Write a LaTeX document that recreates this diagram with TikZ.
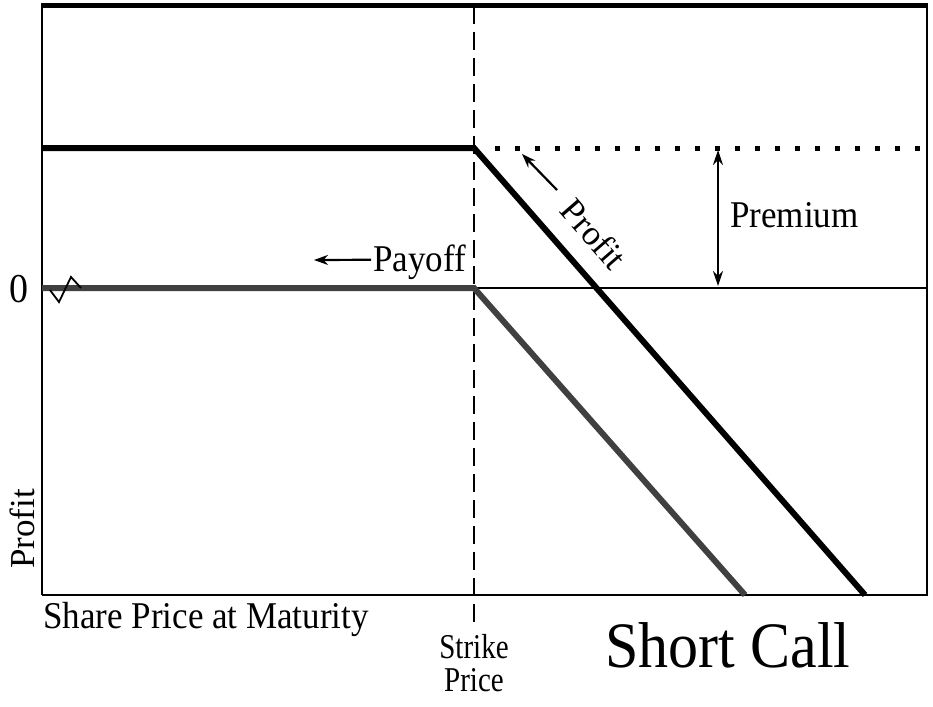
\documentclass[tikz,border=0pt]{standalone}
\usepackage{fontspec}
\setmainfont{Liberation Serif}
\usetikzlibrary{arrows.meta}
\tikzset{
  lbl/.style={inner sep=0pt, font=\fontsize{35}{40}\selectfont},
  tall/.style={yscale=1.08},
  frame/.style={line width=2pt, black},
  heavy/.style={line width=6pt, black},
  payline/.style={line width=6pt, black!75},
  thin/.style={line width=1.8pt, black},
  pointer/.style={line width=2.2pt, -{Stealth[length=14pt,width=10pt]}},
  twoway/.style={line width=2pt, {Stealth[length=15pt,width=10pt]}-{Stealth[length=15pt,width=10pt]}}
}
\begin{document}
\begin{tikzpicture}[x=1pt,y=-1pt]
\useasboundingbox (0,0) rectangle (933,706);
\fill[white] (0,0) rectangle (933,706);
% frame
\coordinate (TL) at (42,6);
\coordinate (TR) at (927,6);
\coordinate (BL) at (42,595);
\coordinate (BR) at (927,595);
\draw[frame] (BL) -- (TL);
\draw[frame] (TR) -- (BR) -- (BL);
\draw[line width=5pt] (41,6) -- (928,6);
% strike dashed
\coordinate (ST) at (474,6);
\coordinate (SB) at (474,628);
\draw[line width=1.6pt, dash pattern=on 18pt off 8pt] (ST) -- (SB);
% zero line and dotted premium level
\coordinate (Z0) at (474,288);
\coordinate (Z1) at (927,288);
\draw[thin] (Z0) -- (Z1);
\coordinate (D0) at (474,148);
\coordinate (D1) at (927,148);
\draw[line width=5pt, dash pattern=on 5pt off 15pt] (D0) ++(21,0) -- (D1);
% payoff line
\coordinate (PA) at (42,288);
\coordinate (PK) at (474,288);
\coordinate (PE) at (745,595);
\draw[payline, line join=miter] (PA) -- (PK) -- (PE);
% profit line
\coordinate (QA) at (42,148);
\coordinate (QK) at (474,148);
\coordinate (QE) at (865,595);
\draw[heavy, line join=miter] (QA) -- (QK) -- (QE);
% axis break
\coordinate (B0) at (50,290);
\coordinate (B1) at (59,302);
\coordinate (B2) at (71,277);
\coordinate (B3) at (81,288);
\draw[line width=1.8pt] (B0) -- (B1) -- (B2) -- (B3);
% premium arrow
\coordinate (M0) at (718,150);
\coordinate (M1) at (718,286);
\draw[twoway] (M0) -- (M1);
\node[lbl, tall, anchor=base west] (prem) at (730,227) {Premium};
% payoff label and arrow
\node[lbl, tall, anchor=base west] (pay) at (373,271) {Payoff};
\coordinate (PT) at (314,260);
\draw[pointer] (pay.west) ++(-2,-2) coordinate (PS) -- (PT);
% profit diagonal label and arrow
\node[lbl, rotate=-49] (prof) at (594,234) {Profit};
\coordinate (QS) at (557,190);
\coordinate (QT) at (522,154);
\draw[pointer] (QS) -- (QT);
% axis labels
\node[lbl, tall, font=\fontsize{38}{40}\selectfont, anchor=base west] (zero) at (9,302) {0};
\node[lbl, rotate=90, anchor=base] (yl) at (34,529) {Profit};
\node[lbl, tall, anchor=base west] (xl) at (43,628) {Share Price at Maturity};
\node[lbl, font=\fontsize{29}{32}\selectfont, yscale=1.2, anchor=base] (s1) at (474,658) {Strike};
\node[lbl, font=\fontsize{29}{32}\selectfont, yscale=1.2, anchor=base] (s2) at (474,691) {Price};
\node[lbl, tall, font=\fontsize{60}{64}\selectfont, anchor=base] (title) at (728,667) {Short Call};
\end{tikzpicture}
\end{document}
